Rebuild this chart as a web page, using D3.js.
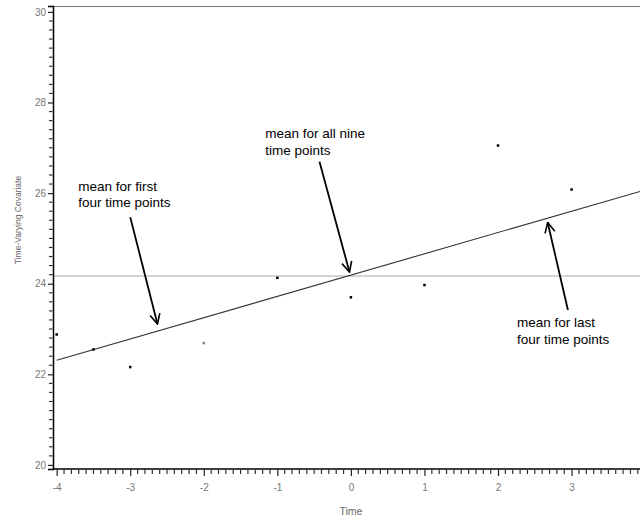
<!DOCTYPE html>
<html><head><meta charset="utf-8">
<script src="https://cdn.jsdelivr.net/npm/d3@7"></script>
<style>html,body{margin:0;padding:0;background:#fff;}svg{display:block;font-family:"Liberation Sans",Arial,sans-serif;}</style>
</head><body>
<svg id="c" width="640" height="521"></svg>
<script>
// ---- data ----
const times = [-4, -3.5, -3, -2, -1, 0, 1, 2, 3];
const covariate = [22.88, 22.55, 22.16, 22.69, 24.13, 23.70, 23.97, 27.05, 26.08];
const pointShade = ["#000", "#000", "#000", "#888", "#000", "#000", "#000", "#000", "#000"];
const overallMean = 24.17;
const fitIntercept = 24.19;
const fitSlope = 0.47;
const xTickValues = [-4, -3, -2, -1, 0, 1, 2, 3];
const yTickValues = [20, 22, 24, 26, 28, 30];
const annoText = [["mean for first", "four time points"], ["mean for all nine", "time points"], ["mean for last", "four time points"]];
const annoTextAt = [[-3.706, 26.05], [-1.166, 27.21], [2.259, 23.04]];
const arrowFrom = [[-3.00, 25.47], [-0.427, 26.69], [2.95, 23.42]];
const arrowTo = [[-2.63, 23.11], [-0.02, 24.26], [2.675, 25.35]];

// ---- scales ----
const svg = d3.select("#c");
const x = d3.scaleLinear().domain([-4.05, 3.93]).range([53, 640]);
const y = d3.scaleLinear().domain([19.91, 30.13]).range([469, 6]);
const X0 = x.range()[0], Y0 = y.range()[0];

svg.append("defs").append("marker")
  .attr("id", "ah").attr("viewBox", "0 0 12 12").attr("refX", 11).attr("refY", 6)
  .attr("markerWidth", 12).attr("markerHeight", 12).attr("markerUnits", "userSpaceOnUse")
  .attr("orient", "auto")
  .append("path").attr("d", "M1,1 L11,6 L1,11").attr("fill", "none").attr("stroke", "#000").attr("stroke-width", 1.6);

// top frame
svg.append("line").attr("x1", X0).attr("x2", 640).attr("y1", y.range()[1] + 0.5).attr("y2", y.range()[1] + 0.5)
  .attr("stroke", "#777").attr("stroke-width", 1);

// mean line
svg.append("line").attr("x1", X0).attr("x2", 640).attr("y1", y(overallMean)).attr("y2", y(overallMean))
  .attr("stroke", "#aaa").attr("stroke-width", 1);

// fitted line
svg.append("line")
  .attr("x1", x(-4)).attr("y1", y(fitIntercept + fitSlope * -4))
  .attr("x2", x(3.93)).attr("y2", y(fitIntercept + fitSlope * 3.93))
  .attr("stroke", "#333").attr("stroke-width", 1.1);

// points
svg.append("g").selectAll("rect").data(times).join("rect")
  .attr("x", (d) => x(d) - 1.25).attr("y", (d, i) => y(covariate[i]) - 1.25)
  .attr("width", 2.5).attr("height", 2.5).attr("fill", (d, i) => pointShade[i]);

// y axis
const gy = svg.append("g").attr("transform", `translate(${X0},0)`);
gy.call(d3.axisLeft(y).tickValues(yTickValues).tickSize(5).tickPadding(2).tickFormat((d) => String(d)));
gy.select(".domain").attr("stroke", "#000").attr("stroke-width", 1.5);
gy.selectAll(".tick line").attr("stroke", "#222").attr("stroke-width", 1.2);
gy.selectAll(".tick text").attr("fill", "#777").attr("font-size", 10).attr("font-family", "Liberation Sans, Arial, sans-serif");

// x axis
const gx = svg.append("g").attr("transform", `translate(0,${Y0})`);
gx.call(d3.axisBottom(x).tickValues(xTickValues).tickSize(7).tickPadding(8).tickFormat((d) => String(d)));
gx.select(".domain").attr("stroke", "#000").attr("stroke-width", 1.5).attr("d", `M${X0},0H640`);
gx.selectAll(".tick line").attr("stroke", "#222").attr("stroke-width", 1.2);
gx.selectAll(".tick text").attr("fill", "#777").attr("font-size", 10).attr("font-family", "Liberation Sans, Arial, sans-serif");

// minor ticks (drawn on top)
const yMinor = d3.range(0, 51).map((k) => 20 + k * 0.2).filter((v, k) => k % 10 !== 0);
svg.append("g").attr("class", "yminor").selectAll("line").data(yMinor).join("line")
  .attr("x1", X0 - 0.5).attr("x2", X0 - 4).attr("y1", (d) => y(d)).attr("y2", (d) => y(d))
  .attr("stroke", "#333").attr("stroke-width", 1.2);
const xMinor = d3.range(0, 80).map((k) => -4 + k * 0.1).filter((v, k) => k % 10 !== 0);
svg.append("g").attr("class", "xminor").selectAll("line").data(xMinor).join("line")
  .attr("x1", (d) => x(d)).attr("x2", (d) => x(d)).attr("y1", Y0 + 0.5).attr("y2", Y0 + 5)
  .attr("stroke", "#333").attr("stroke-width", 1.2);

// axis titles
svg.append("text").attr("x", 351).attr("y", 515).attr("text-anchor", "middle")
  .attr("font-size", 10.5).attr("fill", "#666").text("Time");
svg.append("text").attr("transform", "translate(21,220) rotate(-90)").attr("text-anchor", "middle")
  .attr("font-size", 8.5).attr("fill", "#666").text("Time-Varying Covariate");

// annotations
annoText.forEach((lines, i) => {
  const t = svg.append("text").attr("x", x(annoTextAt[i][0])).attr("y", y(annoTextAt[i][1]))
    .attr("font-size", 13.5).attr("fill", "#000");
  lines.forEach((s, j) => t.append("tspan").attr("x", x(annoTextAt[i][0])).attr("dy", j === 0 ? 0 : 16.5).text(s));
  svg.append("line")
    .attr("x1", x(arrowFrom[i][0])).attr("y1", y(arrowFrom[i][1]))
    .attr("x2", x(arrowTo[i][0])).attr("y2", y(arrowTo[i][1]))
    .attr("stroke", "#000").attr("stroke-width", 1.8).attr("marker-end", "url(#ah)");
});
</script>
</body></html>
